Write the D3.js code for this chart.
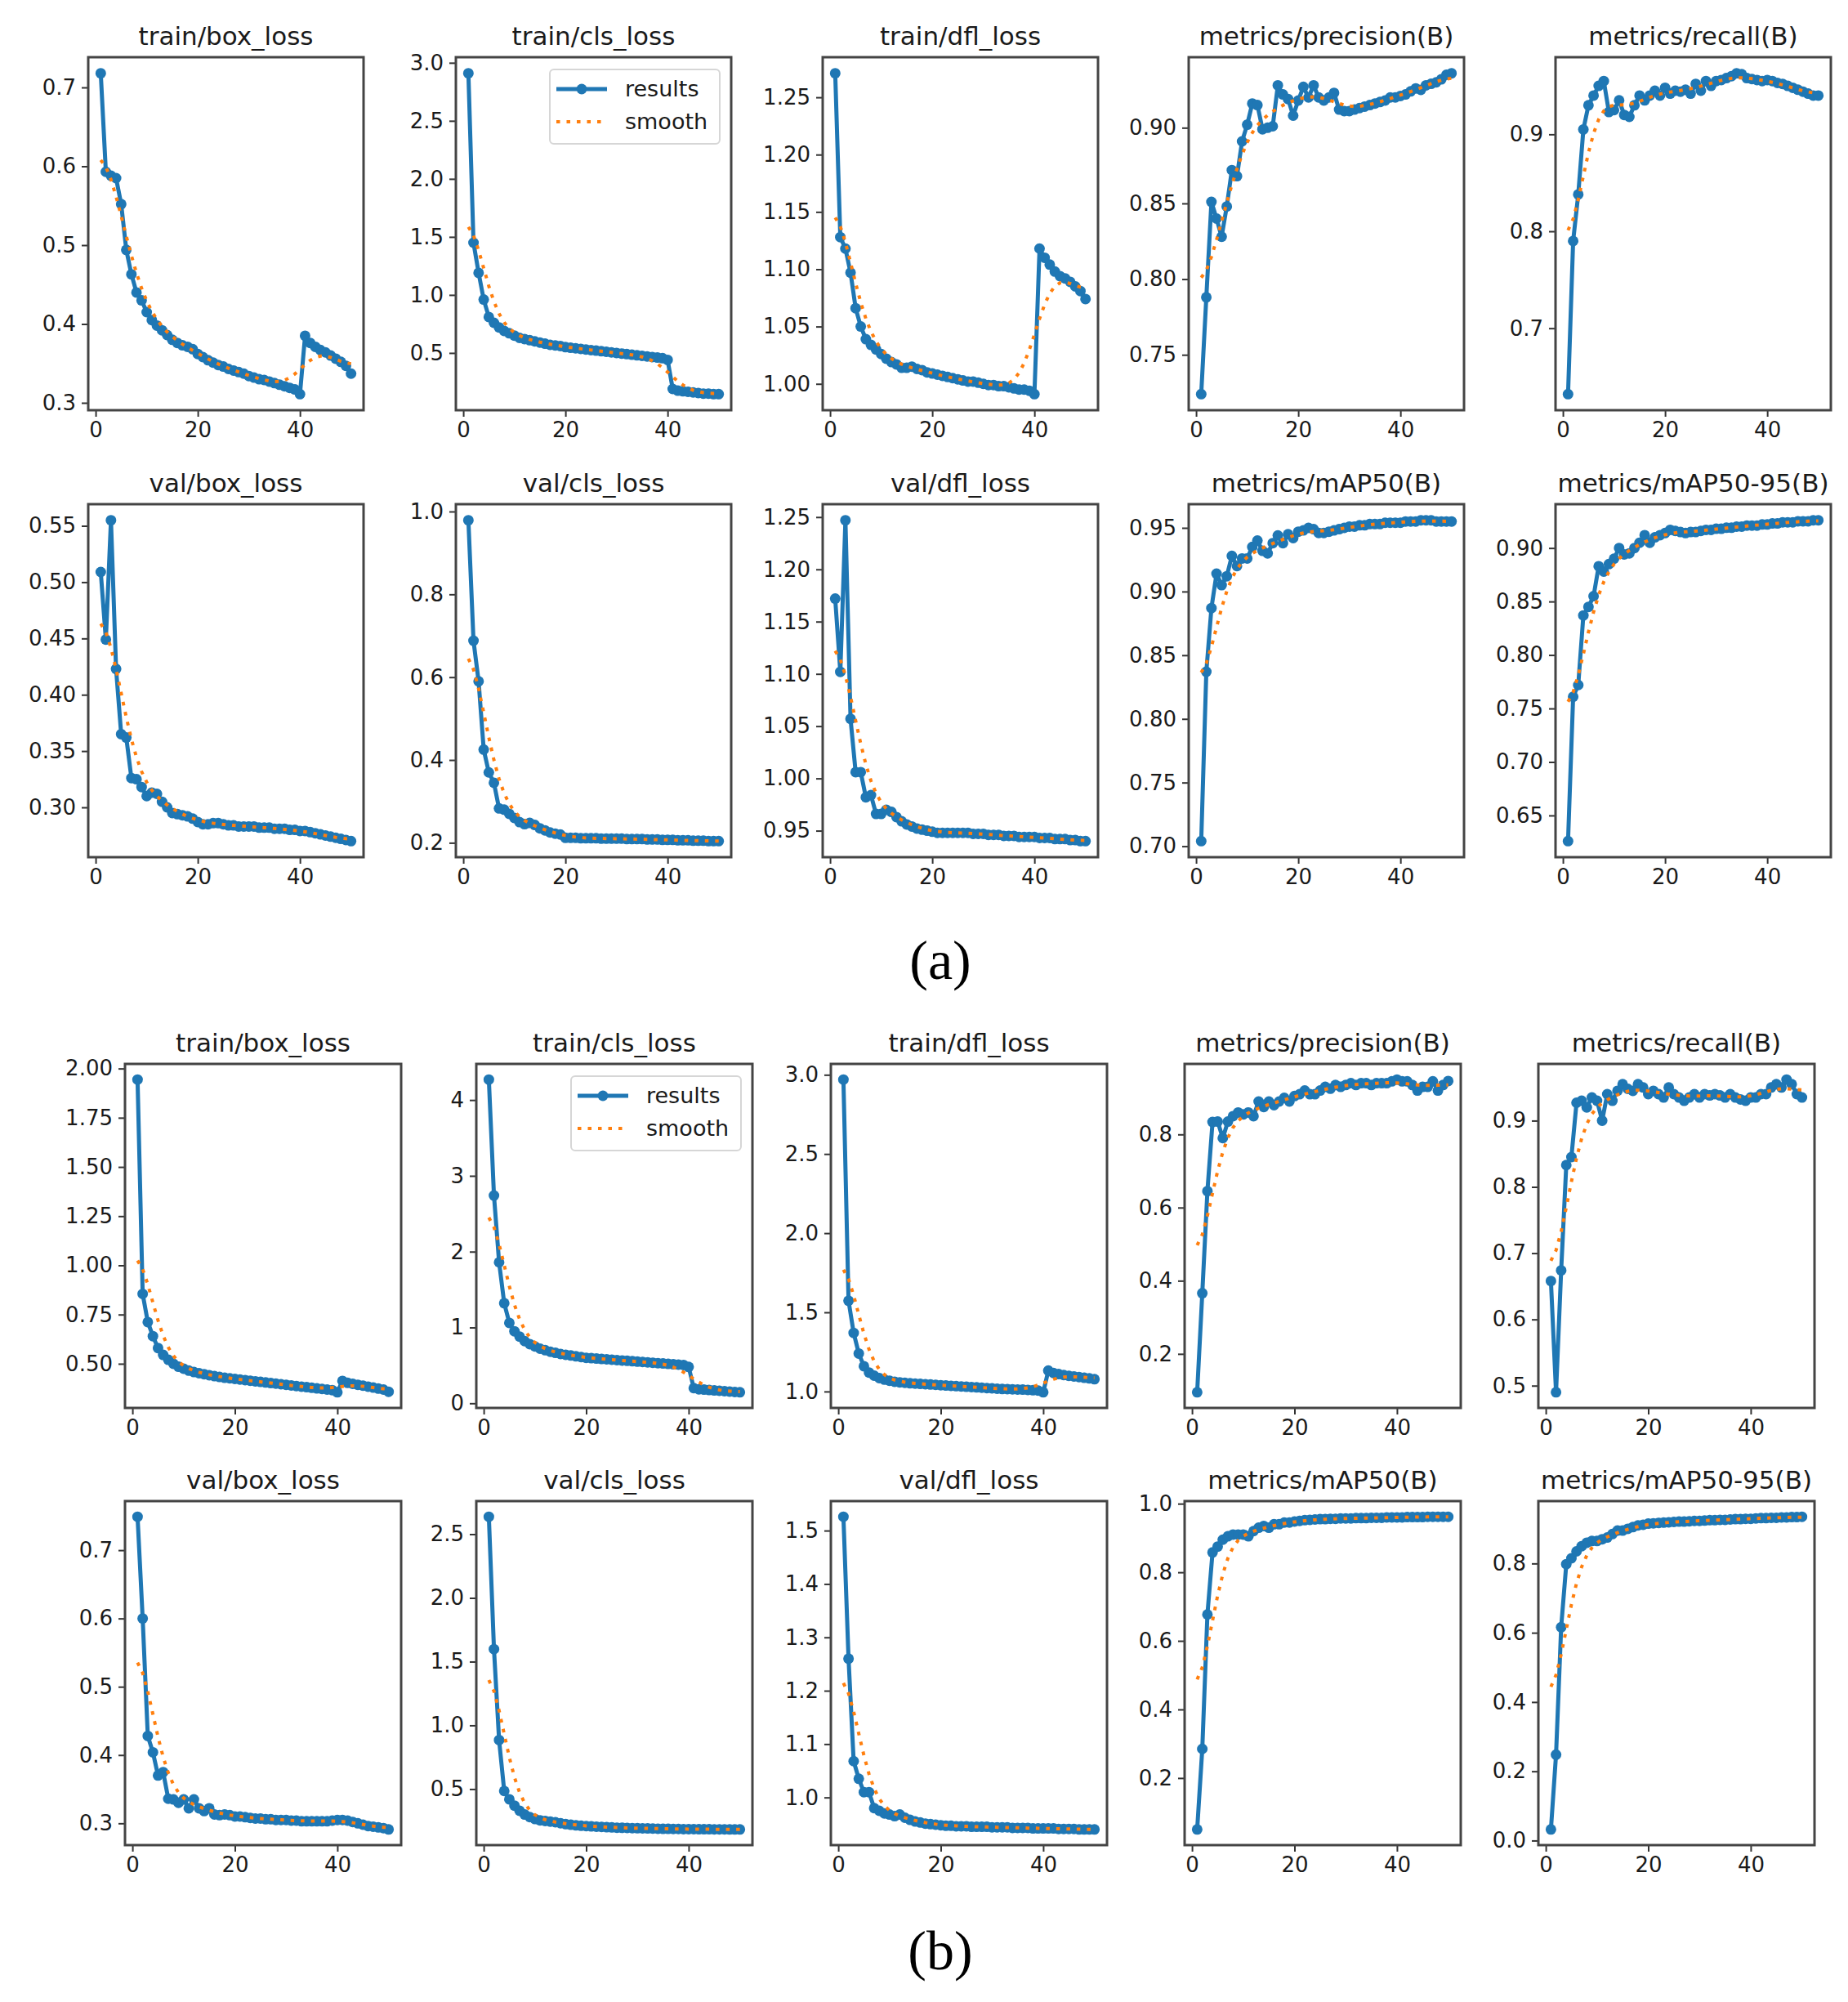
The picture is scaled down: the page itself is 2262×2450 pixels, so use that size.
<!DOCTYPE html>
<html>
<head>
<meta charset="utf-8">
<script src="https://cdn.jsdelivr.net/npm/d3@7"></script>
<style>
  body { margin: 0; background: #fff; }
  svg { display: block; }
</style>
</head>
<body>
<script>
// epochs on the x axis
var epochs = [1, 2, 3, 4, 5, 6, 7, 8, 9, 10, 11, 12, 13, 14, 15, 16, 17, 18, 19, 20,
  21, 22, 23, 24, 25, 26, 27, 28, 29, 30, 31, 32, 33, 34, 35, 36, 37, 38, 39, 40,
  41, 42, 43, 44, 45, 46, 47, 48, 49, 50];
var xTicks = [0, 20, 40];

var titles = ['train/box_loss', 'train/cls_loss', 'train/dfl_loss', 'metrics/precision(B)', 'metrics/recall(B)',
  'val/box_loss', 'val/cls_loss', 'val/dfl_loss', 'metrics/mAP50(B)', 'metrics/mAP50-95(B)'];
var legendLabels = ['results', 'smooth'];
var figLabels = ['(a)', '(b)'];

// ---- run (a) ----
var aTrainBox = [0.718, 0.593, 0.588, 0.585, 0.552, 0.494, 0.463, 0.440, 0.430, 0.415,
  0.405, 0.398, 0.392, 0.386, 0.380, 0.376, 0.373, 0.371, 0.368, 0.362,
  0.358, 0.354, 0.351, 0.348, 0.346, 0.343, 0.341, 0.339, 0.337, 0.334,
  0.332, 0.330, 0.329, 0.327, 0.325, 0.323, 0.321, 0.319, 0.317, 0.311,
  0.385, 0.376, 0.371, 0.367, 0.364, 0.360, 0.356, 0.352, 0.347, 0.337];
var aTrainCls = [2.91, 1.45, 1.19, 0.96, 0.81, 0.76, 0.72, 0.69, 0.67, 0.65,
  0.63, 0.62, 0.61, 0.60, 0.59, 0.58, 0.57, 0.565, 0.56, 0.55,
  0.545, 0.54, 0.535, 0.53, 0.525, 0.52, 0.515, 0.51, 0.505, 0.50,
  0.495, 0.49, 0.485, 0.48, 0.475, 0.47, 0.465, 0.46, 0.455, 0.44,
  0.19, 0.175, 0.17, 0.165, 0.16, 0.155, 0.15, 0.15, 0.145, 0.145];
var aTrainDfl = [1.271, 1.128, 1.118, 1.097, 1.066, 1.050, 1.039, 1.034, 1.030, 1.026,
  1.022, 1.019, 1.017, 1.014, 1.014, 1.015, 1.013, 1.012, 1.010, 1.009,
  1.008, 1.007, 1.006, 1.005, 1.004, 1.003, 1.002, 1.002, 1.001, 1.000,
  0.999, 0.999, 0.998, 0.998, 0.997, 0.996, 0.995, 0.995, 0.994, 0.991,
  1.118, 1.110, 1.104, 1.098, 1.094, 1.092, 1.089, 1.085, 1.081, 1.074];
var aPrecision = [0.724, 0.788, 0.851, 0.840, 0.828, 0.848, 0.872, 0.868, 0.891, 0.902,
  0.916, 0.915, 0.899, 0.900, 0.901, 0.928, 0.922, 0.919, 0.908, 0.918,
  0.927, 0.920, 0.928, 0.920, 0.918, 0.920, 0.923, 0.912, 0.911, 0.911,
  0.912, 0.913, 0.914, 0.915, 0.916, 0.917, 0.918, 0.920, 0.920, 0.921,
  0.922, 0.924, 0.926, 0.925, 0.928, 0.929, 0.930, 0.932, 0.935, 0.936];
var aRecall = [0.632, 0.790, 0.838, 0.905, 0.930, 0.940, 0.950, 0.955, 0.923, 0.925,
  0.935, 0.920, 0.918, 0.930, 0.940, 0.935, 0.940, 0.945, 0.940, 0.948,
  0.942, 0.945, 0.944, 0.946, 0.942, 0.952, 0.945, 0.955, 0.950, 0.955,
  0.956, 0.958, 0.960, 0.963, 0.962, 0.958, 0.957, 0.956, 0.955, 0.956,
  0.955, 0.953, 0.952, 0.950, 0.948, 0.946, 0.944, 0.942, 0.940, 0.940];
var aValBox = [0.509, 0.449, 0.555, 0.423, 0.365, 0.362, 0.326, 0.325, 0.318, 0.310,
  0.313, 0.312, 0.305, 0.300, 0.295, 0.294, 0.293, 0.292, 0.290, 0.287,
  0.285, 0.285, 0.286, 0.286, 0.285, 0.284, 0.284, 0.283, 0.283, 0.283,
  0.283, 0.282, 0.282, 0.282, 0.281, 0.281, 0.281, 0.280, 0.280, 0.279,
  0.279, 0.278, 0.277, 0.276, 0.275, 0.274, 0.273, 0.272, 0.271, 0.270];
var aValCls = [0.979, 0.688, 0.590, 0.425, 0.370, 0.345, 0.283, 0.280, 0.270, 0.260,
  0.250, 0.245, 0.248, 0.243, 0.235, 0.230, 0.225, 0.222, 0.220, 0.212,
  0.212, 0.212, 0.211, 0.211, 0.211, 0.211, 0.210, 0.210, 0.210, 0.210,
  0.210, 0.209, 0.209, 0.209, 0.209, 0.208, 0.208, 0.208, 0.207, 0.207,
  0.207, 0.206, 0.206, 0.206, 0.205, 0.205, 0.205, 0.204, 0.204, 0.204];
var aValDfl = [1.172, 1.102, 1.247, 1.057, 1.006, 1.006, 0.982, 0.984, 0.966, 0.966,
  0.970, 0.968, 0.963, 0.959, 0.956, 0.954, 0.952, 0.951, 0.950, 0.949,
  0.948, 0.948, 0.948, 0.948, 0.948, 0.948, 0.948, 0.947, 0.947, 0.947,
  0.946, 0.946, 0.946, 0.945, 0.945, 0.945, 0.944, 0.944, 0.944, 0.944,
  0.943, 0.943, 0.943, 0.942, 0.942, 0.942, 0.941, 0.941, 0.940, 0.940];
var aMap50 = [0.704, 0.837, 0.887, 0.914, 0.905, 0.912, 0.928, 0.920, 0.926, 0.926,
  0.935, 0.940, 0.932, 0.930, 0.938, 0.944, 0.938, 0.945, 0.942, 0.947,
  0.948, 0.950, 0.949, 0.946, 0.946, 0.947, 0.948, 0.949, 0.950, 0.951,
  0.951, 0.952, 0.952, 0.953, 0.953, 0.953, 0.954, 0.954, 0.954, 0.954,
  0.955, 0.955, 0.955, 0.956, 0.956, 0.956, 0.955, 0.955, 0.955, 0.955];
var aMap5095 = [0.626, 0.761, 0.772, 0.837, 0.845, 0.855, 0.883, 0.878, 0.885, 0.890,
  0.900, 0.894, 0.895, 0.900, 0.905, 0.912, 0.905, 0.910, 0.912, 0.914,
  0.917, 0.916, 0.915, 0.914, 0.915, 0.915, 0.916, 0.917, 0.917, 0.918,
  0.918, 0.919, 0.919, 0.920, 0.920, 0.921, 0.921, 0.921, 0.922, 0.922,
  0.923, 0.923, 0.924, 0.924, 0.924, 0.925, 0.925, 0.925, 0.926, 0.926];

// ---- run (b) ----
var bTrainBox = [1.944, 0.855, 0.712, 0.640, 0.580, 0.545, 0.520, 0.500, 0.485, 0.475,
  0.465, 0.458, 0.452, 0.447, 0.442, 0.437, 0.433, 0.429, 0.426, 0.423,
  0.420, 0.417, 0.414, 0.411, 0.408, 0.405, 0.402, 0.399, 0.396, 0.393,
  0.390, 0.387, 0.384, 0.381, 0.378, 0.375, 0.372, 0.369, 0.366, 0.355,
  0.413, 0.403, 0.398, 0.393, 0.389, 0.384, 0.379, 0.374, 0.369, 0.358];
var bTrainCls = [4.27, 2.74, 1.86, 1.32, 1.06, 0.95, 0.88, 0.82, 0.78, 0.75,
  0.72, 0.70, 0.68, 0.665, 0.65, 0.64, 0.63, 0.62, 0.61, 0.60,
  0.595, 0.59, 0.585, 0.58, 0.575, 0.57, 0.565, 0.56, 0.555, 0.55,
  0.545, 0.54, 0.535, 0.53, 0.525, 0.52, 0.515, 0.51, 0.505, 0.48,
  0.20, 0.185, 0.18, 0.175, 0.17, 0.165, 0.16, 0.155, 0.15, 0.145];
var bTrainDfl = [2.97, 1.573, 1.37, 1.24, 1.16, 1.12, 1.10, 1.085, 1.075, 1.068,
  1.062, 1.058, 1.055, 1.052, 1.050, 1.048, 1.046, 1.044, 1.042, 1.040,
  1.038, 1.036, 1.034, 1.032, 1.030, 1.028, 1.026, 1.024, 1.022, 1.020,
  1.018, 1.016, 1.015, 1.014, 1.013, 1.012, 1.010, 1.008, 1.006, 0.995,
  1.132, 1.117, 1.110, 1.104, 1.099, 1.095, 1.091, 1.087, 1.083, 1.078];
var bPrecision = [0.095, 0.366, 0.645, 0.834, 0.835, 0.790, 0.835, 0.850, 0.860, 0.855,
  0.860, 0.850, 0.890, 0.875, 0.890, 0.880, 0.890, 0.900, 0.890, 0.905,
  0.910, 0.920, 0.910, 0.910, 0.920, 0.930, 0.925, 0.935, 0.930, 0.935,
  0.940, 0.935, 0.940, 0.940, 0.935, 0.940, 0.940, 0.940, 0.945, 0.950,
  0.945, 0.945, 0.935, 0.920, 0.930, 0.930, 0.945, 0.920, 0.935, 0.946];
var bRecall = [0.658, 0.490, 0.674, 0.833, 0.845, 0.927, 0.930, 0.920, 0.935, 0.930,
  0.900, 0.940, 0.930, 0.945, 0.955, 0.948, 0.945, 0.955, 0.950, 0.940,
  0.945, 0.940, 0.935, 0.950, 0.940, 0.935, 0.930, 0.935, 0.940, 0.935,
  0.940, 0.938, 0.940, 0.938, 0.935, 0.940, 0.935, 0.932, 0.930, 0.935,
  0.935, 0.940, 0.940, 0.950, 0.955, 0.950, 0.962, 0.955, 0.940, 0.935];
var bValBox = [0.749, 0.600, 0.428, 0.404, 0.370, 0.375, 0.336, 0.335, 0.330, 0.335,
  0.322, 0.335, 0.322, 0.318, 0.322, 0.313, 0.312, 0.313, 0.312, 0.310,
  0.310, 0.309, 0.308, 0.307, 0.307, 0.306, 0.306, 0.305, 0.305, 0.305,
  0.304, 0.304, 0.303, 0.303, 0.303, 0.303, 0.303, 0.303, 0.304, 0.305,
  0.305, 0.304, 0.302, 0.300, 0.298, 0.296, 0.295, 0.294, 0.293, 0.291];
var bValCls = [2.637, 1.598, 0.885, 0.485, 0.420, 0.370, 0.330, 0.300, 0.280, 0.265,
  0.255, 0.250, 0.245, 0.240, 0.232, 0.225, 0.220, 0.215, 0.212, 0.210,
  0.207, 0.205, 0.203, 0.201, 0.199, 0.197, 0.196, 0.195, 0.194, 0.193,
  0.192, 0.191, 0.190, 0.189, 0.188, 0.188, 0.187, 0.187, 0.186, 0.186,
  0.186, 0.185, 0.185, 0.185, 0.184, 0.184, 0.184, 0.183, 0.183, 0.183];
var bValDfl = [1.526, 1.260, 1.068, 1.035, 1.010, 1.010, 0.980, 0.975, 0.970, 0.968,
  0.965, 0.968, 0.962, 0.958, 0.955, 0.953, 0.951, 0.950, 0.949, 0.948,
  0.947, 0.947, 0.946, 0.946, 0.946, 0.945, 0.945, 0.945, 0.945, 0.944,
  0.944, 0.944, 0.944, 0.943, 0.943, 0.943, 0.943, 0.942, 0.942, 0.942,
  0.942, 0.942, 0.941, 0.941, 0.941, 0.941, 0.940, 0.940, 0.940, 0.940];
var bMap50 = [0.050, 0.285, 0.677, 0.858, 0.875, 0.895, 0.905, 0.910, 0.910, 0.910,
  0.905, 0.920, 0.930, 0.935, 0.930, 0.940, 0.940, 0.945, 0.945, 0.948,
  0.950, 0.952, 0.953, 0.954, 0.955, 0.955, 0.956, 0.956, 0.957, 0.957,
  0.957, 0.958, 0.958, 0.958, 0.959, 0.959, 0.959, 0.960, 0.960, 0.960,
  0.960, 0.961, 0.961, 0.961, 0.961, 0.962, 0.962, 0.962, 0.962, 0.962];
var bMap5095 = [0.032, 0.248, 0.616, 0.798, 0.815, 0.835, 0.850, 0.860, 0.865, 0.865,
  0.870, 0.875, 0.885, 0.895, 0.895, 0.900, 0.905, 0.910, 0.912, 0.915,
  0.916, 0.917, 0.918, 0.919, 0.920, 0.921, 0.921, 0.922, 0.923, 0.923,
  0.924, 0.925, 0.925, 0.926, 0.926, 0.927, 0.928, 0.928, 0.929, 0.929,
  0.930, 0.931, 0.931, 0.932, 0.932, 0.933, 0.933, 0.934, 0.934, 0.935];

// y tick labels, one list per panel, as printed
var aTicks = [
  ['0.3', '0.4', '0.5', '0.6', '0.7'],
  ['0.5', '1.0', '1.5', '2.0', '2.5', '3.0'],
  ['1.00', '1.05', '1.10', '1.15', '1.20', '1.25'],
  ['0.75', '0.80', '0.85', '0.90'],
  ['0.7', '0.8', '0.9'],
  ['0.30', '0.35', '0.40', '0.45', '0.50', '0.55'],
  ['0.2', '0.4', '0.6', '0.8', '1.0'],
  ['0.95', '1.00', '1.05', '1.10', '1.15', '1.20', '1.25'],
  ['0.70', '0.75', '0.80', '0.85', '0.90', '0.95'],
  ['0.65', '0.70', '0.75', '0.80', '0.85', '0.90']
];
var bTicks = [
  ['0.50', '0.75', '1.00', '1.25', '1.50', '1.75', '2.00'],
  ['0', '1', '2', '3', '4'],
  ['1.0', '1.5', '2.0', '2.5', '3.0'],
  ['0.2', '0.4', '0.6', '0.8'],
  ['0.5', '0.6', '0.7', '0.8', '0.9'],
  ['0.3', '0.4', '0.5', '0.6', '0.7'],
  ['0.5', '1.0', '1.5', '2.0', '2.5'],
  ['1.0', '1.1', '1.2', '1.3', '1.4', '1.5'],
  ['0.2', '0.4', '0.6', '0.8', '1.0'],
  ['0.0', '0.2', '0.4', '0.6', '0.8']
];

var aSeries = [aTrainBox, aTrainCls, aTrainDfl, aPrecision, aRecall, aValBox, aValCls, aValDfl, aMap50, aMap5095];
var bSeries = [bTrainBox, bTrainCls, bTrainDfl, bPrecision, bRecall, bValBox, bValCls, bValDfl, bMap50, bMap5095];

// layout of the two figures (pixels)
var blocks = [
  { series: aSeries, ticks: aTicks, label: figLabels[0], labelY: 1198,
    lefts: [108, 558, 1007, 1455, 1904], tops: [70, 617], w: 337, h: 432 },
  { series: bSeries, ticks: bTicks, label: figLabels[1], labelY: 2410,
    lefts: [153, 583, 1017, 1450, 1883], tops: [1302, 1837], w: 338, h: 421 }
];

var blue = '#1f77b4', orange = '#ff7f0e';
var font = '"DejaVu Sans", Verdana, sans-serif';

// gaussian_filter1d(y, sigma) with reflect mode, like the plotting script
function gaussianSmooth(y, sigma) {
  var radius = Math.round(4 * sigma);
  var w = d3.range(-radius, radius + 1).map(function (k) {
    return Math.exp(-0.5 * k * k / (sigma * sigma));
  });
  var s = d3.sum(w), n = y.length;
  function refl(i) {
    while (i < 0 || i >= n) {
      if (i < 0) i = -i - 1;
      if (i >= n) i = 2 * n - i - 1;
    }
    return i;
  }
  return y.map(function (_, i) {
    return d3.sum(w, function (wk, j) { return wk * y[refl(i + j - radius)]; }) / s;
  });
}

var svg = d3.select('body').append('svg')
  .attr('width', 2262)
  .attr('height', 2450)
  .style('font-family', font);

function styleAxis(sel) {
  sel.select('.domain').remove();
  sel.selectAll('.tick line').attr('stroke', '#333').attr('stroke-width', 2);
  sel.selectAll('.tick text')
    .attr('font-size', 26)
    .attr('font-family', font)
    .attr('fill', '#1a1a1a');
}

function drawPanel(g, w, h, title, values, ticks, withLegend) {
  var xs = d3.scaleLinear().domain([-1.45, 52.45]).range([0, w]);
  var smooth = gaussianSmooth(values, 3);
  var all = values.concat(smooth);
  var lo = d3.min(all), hi = d3.max(all), pad = (hi - lo) * 0.05;
  var ys = d3.scaleLinear().domain([lo - pad, hi + pad]).range([h, 0]);

  var shown = ticks.filter(function (t) { return +t >= lo - pad && +t <= hi + pad; });

  g.append('g')
    .attr('transform', 'translate(0,' + h + ')')
    .call(d3.axisBottom(xs).tickValues(xTicks).tickSize(8).tickPadding(7).tickFormat(d3.format('d')))
    .call(styleAxis);

  g.append('g')
    .call(d3.axisLeft(ys)
      .tickValues(shown.map(Number))
      .tickSize(8).tickPadding(7)
      .tickFormat(function (d, i) { return shown[i]; }))
    .call(styleAxis);

  var line = d3.line()
    .x(function (d, i) { return xs(epochs[i]); })
    .y(function (d) { return ys(d); });

  g.append('path')
    .datum(values)
    .attr('d', line)
    .attr('fill', 'none')
    .attr('stroke', blue)
    .attr('stroke-width', 5)
    .attr('stroke-linejoin', 'round');

  g.selectAll('.dot')
    .data(values)
    .enter()
    .append('circle')
    .attr('class', 'dot')
    .attr('cx', function (d, i) { return xs(epochs[i]); })
    .attr('cy', function (d) { return ys(d); })
    .attr('r', 6.5)
    .attr('fill', blue);

  g.append('path')
    .datum(smooth)
    .attr('d', line)
    .attr('fill', 'none')
    .attr('stroke', orange)
    .attr('stroke-width', 4)
    .attr('stroke-dasharray', '4.5,8');

  g.append('rect')
    .attr('width', w)
    .attr('height', h)
    .attr('fill', 'none')
    .attr('stroke', '#444')
    .attr('stroke-width', 3);

  g.append('text')
    .attr('x', w / 2)
    .attr('y', -15)
    .attr('text-anchor', 'middle')
    .attr('font-size', 31)
    .attr('fill', '#1a1a1a')
    .text(title);

  if (withLegend) {
    var lg = g.append('g').attr('transform', 'translate(' + (w - 14 - 208) + ',15)');
    lg.append('rect')
      .attr('width', 208).attr('height', 91).attr('rx', 5)
      .attr('fill', '#fff').attr('fill-opacity', 0.8)
      .attr('stroke', '#d6d6d6').attr('stroke-width', 2);
    lg.append('line')
      .attr('x1', 8).attr('x2', 70).attr('y1', 24).attr('y2', 24)
      .attr('stroke', blue).attr('stroke-width', 5);
    lg.append('circle').attr('cx', 39).attr('cy', 24).attr('r', 6.5).attr('fill', blue);
    lg.append('line')
      .attr('x1', 8).attr('x2', 70).attr('y1', 64).attr('y2', 64)
      .attr('stroke', orange).attr('stroke-width', 4).attr('stroke-dasharray', '4.5,8');
    lg.selectAll('.lab')
      .data(legendLabels)
      .enter()
      .append('text')
      .attr('class', 'lab')
      .attr('x', 92)
      .attr('y', function (d, i) { return 24 + i * 40; })
      .attr('dy', '0.35em')
      .attr('font-size', 27)
      .attr('fill', '#1a1a1a')
      .text(function (d) { return d; });
  }
}

blocks.forEach(function (b) {
  b.series.forEach(function (vals, k) {
    var row = Math.floor(k / 5), col = k % 5;
    var g = svg.append('g')
      .attr('transform', 'translate(' + b.lefts[col] + ',' + b.tops[row] + ')');
    drawPanel(g, b.w, b.h, titles[k], vals, b.ticks[k], k === 1);
  });

  svg.append('text')
    .attr('x', 1151)
    .attr('y', b.labelY)
    .attr('text-anchor', 'middle')
    .attr('font-family', '"Liberation Serif", "DejaVu Serif", serif')
    .attr('font-size', 68)
    .attr('fill', '#000')
    .text(b.label);
});
</script>
</body>
</html>
